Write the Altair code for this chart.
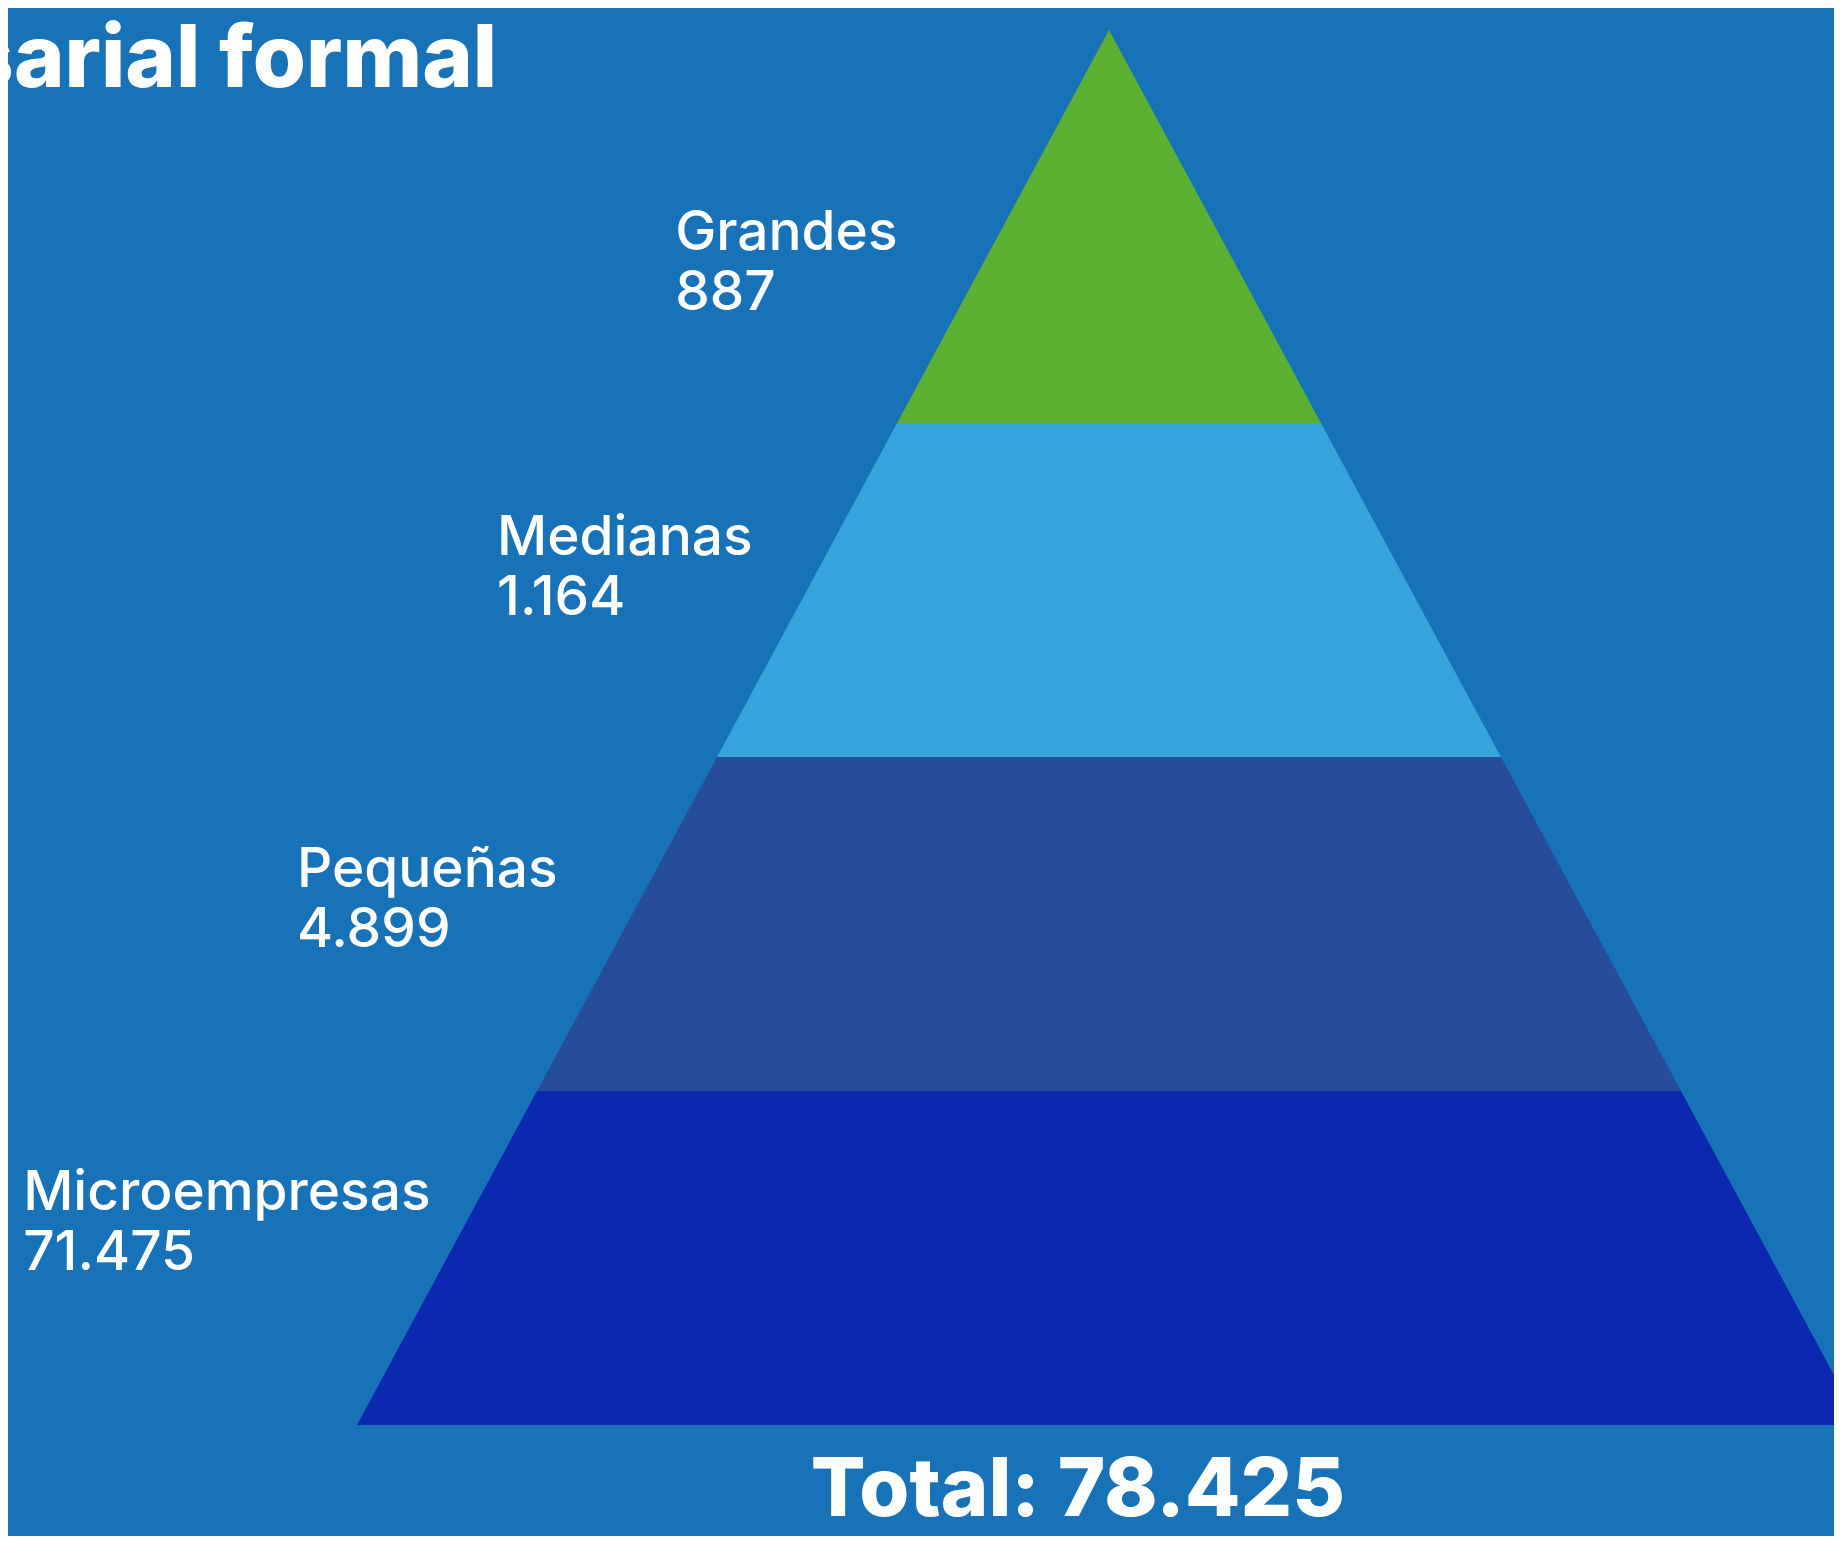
import altair as alt
import pandas as pd

# ---- data ----
categories = ["Microempresas", "Pequeñas", "Medianas", "Grandes"]
values = [71475, 4899, 1164, 887]
title_lines = ["Estructura del tejido", "empresarial formal"]

# ---- styles ----
colors = ["#0C28B0", "#284C9C", "#36A3DC", "#5BB032"]
BG = "#1872B8"
FONT = "Inter"


def fmt(v):
    return f"{v:,}".replace(",", ".")


# ---- layout (abstract units: 1 unit = one band height) ----
W, H = 1826, 1528
PX = 334.0
X_DOM = [-3.2964, -3.2964 + W / PX]
Y_DOM = [(1417 - H) / PX, 1417 / PX]
APEX = 4.177
HALF_BASE = 2.2515
bounds = [0, 1, 2, 3, APEX]
label_u = [-3.251, -2.431, -1.832, -1.299]
label_rise = [0.644, 0.611, 0.605, 0.518]

xs = alt.Scale(domain=X_DOM, nice=False, zero=False)
ys = alt.Scale(domain=Y_DOM, nice=False, zero=False)

rows = []
for i, c in enumerate(categories):
    for lv in (bounds[i], bounds[i + 1]):
        hw = HALF_BASE * (1 - lv / APEX)
        rows.append(dict(cat=c, lvl=lv, left=-hw, right=hw))
bands = pd.DataFrame(rows)

labels = pd.DataFrame(
    dict(
        cat=categories,
        u=label_u,
        lvl=[bounds[i] + label_rise[i] for i in range(len(categories))],
        txt=[f"{c}\n{fmt(v)}" for c, v in zip(categories, values)],
    )
)

total = sum(values)
tot_df = pd.DataFrame(dict(u=[-0.093], lvl=[(1417 - 1508) / PX], txt=[f"Total: {fmt(total)}"]))
title_df = pd.DataFrame(dict(u=[-315 / PX + X_DOM[0]], lvl=[(1417 + 21) / PX], txt=["\n".join(title_lines)]))

area = alt.Chart(bands).mark_area(orient="horizontal", clip=True).encode(
    y=alt.Y("lvl:Q", scale=ys, axis=None),
    x=alt.X("left:Q", scale=xs, axis=None),
    x2="right:Q",
    color=alt.Color("cat:N", scale=alt.Scale(domain=categories, range=colors), legend=None),
)

lab = alt.Chart(labels).mark_text(
    align="left", baseline="alphabetic", lineBreak="\n", lineHeight=60,
    fontSize=55, font=FONT, fontWeight=500, color="white",
).encode(
    x=alt.X("u:Q", scale=xs, axis=None),
    y=alt.Y("lvl:Q", scale=ys, axis=None),
    text="txt:N",
)

tot = alt.Chart(tot_df).mark_text(
    align="center", baseline="alphabetic", fontSize=81, font=FONT,
    fontWeight=800, color="white",
).encode(
    x=alt.X("u:Q", scale=xs, axis=None),
    y=alt.Y("lvl:Q", scale=ys, axis=None),
    text="txt:N",
)

ttl = alt.Chart(title_df).mark_text(
    align="left", baseline="alphabetic", lineBreak="\n", lineHeight=100,
    fontSize=86, font=FONT, fontWeight=800, color="white",
).encode(
    x=alt.X("u:Q", scale=xs, axis=None),
    y=alt.Y("lvl:Q", scale=ys, axis=None),
    text="txt:N",
)

chart = (
    alt.layer(area, lab, tot, ttl)
    .properties(width=W, height=H, padding=0, autosize=alt.AutoSizeParams(type="none"))
    .configure(background=BG)
    .configure_view(strokeWidth=0)
)

chart.save("out.html", embed_options={"renderer": "svg", "actions": False})
